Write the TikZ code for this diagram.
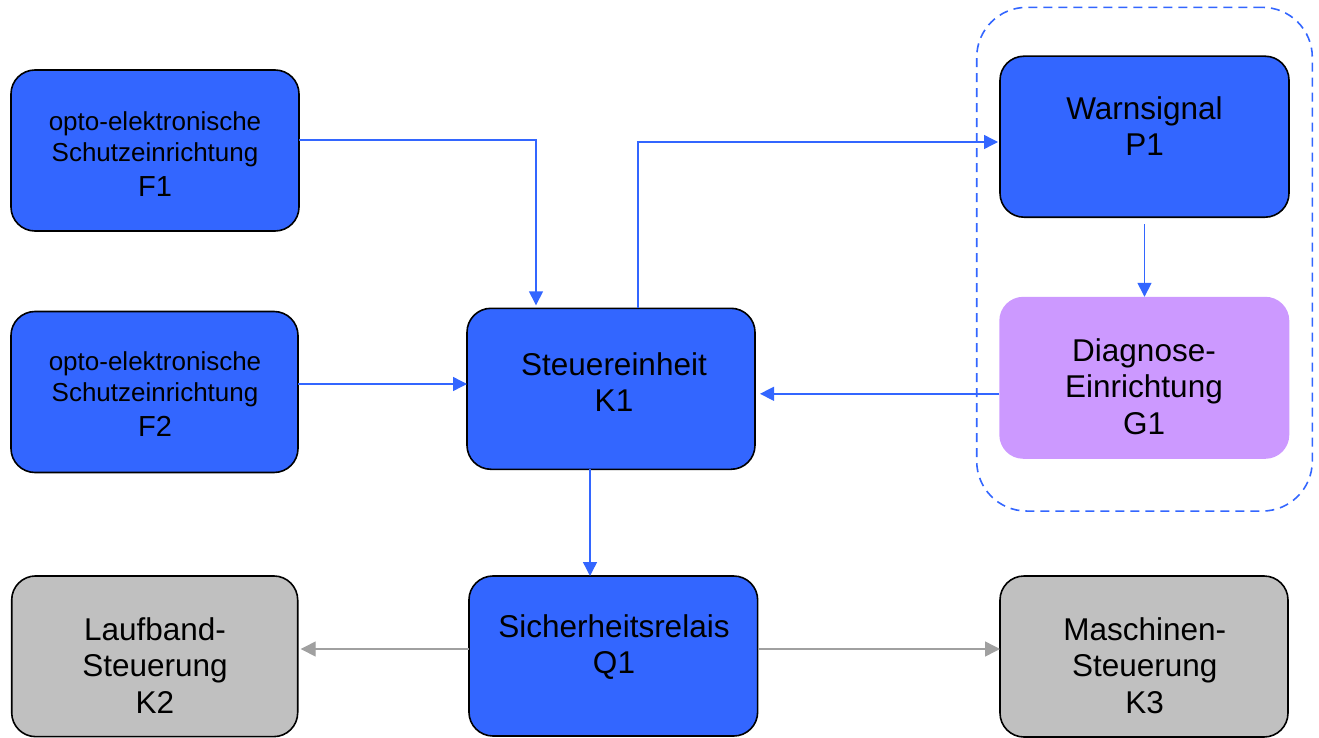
\documentclass[tikz,border=0pt]{standalone}
\usepackage{fontspec}
\setmainfont{Liberation Sans}
\usetikzlibrary{arrows.meta,calc}
\definecolor{cblue}{HTML}{3366FF}
\definecolor{cpurple}{HTML}{CC99FF}
\definecolor{cgrayfill}{HTML}{C0C0C0}
\definecolor{cgrayline}{HTML}{A0A0A0}
\tikzset{
  boxbase/.style={rectangle, rounded corners=24pt, inner sep=0pt, outer sep=0pt,
    minimum width=288pt, minimum height=161pt},
  bluebox/.style={boxbase, draw=black, line width=1.6pt, fill=cblue},
  graybox/.style={boxbase, draw=black, line width=1.6pt, fill=cgrayfill},
  purplebox/.style={boxbase, fill=cpurple, minimum width=290pt, minimum height=162pt},
  grpbox/.style={rectangle, rounded corners=50pt, draw=cblue, line width=1.6pt,
    dash pattern=on 9pt off 6pt, inner sep=0pt, outer sep=0pt,
    minimum width=335.6pt, minimum height=503.7pt},
  bigtxt/.style={align=center, inner sep=0pt, text=black,
    font=\fontsize{31.5}{36.5}\selectfont},
  smalltxt/.style={align=center, inner sep=0pt, text=black,
    font=\fontsize{26}{31}\selectfont},
  arr/.style={draw=cblue, line width=1.4pt, -{Triangle[length=14pt,width=14pt]}},
  grayarr/.style={draw=cgrayline, line width=1.4pt, -{Triangle[length=15pt,width=15pt]}}
}
\begin{document}
\begin{tikzpicture}[x=1pt,y=-1pt]
\useasboundingbox (0,0) rectangle (1319,738);

% group
\node[grpbox] (grp) at (1144.5,259.2) {};

% boxes
\node[bluebox] (F1) at (155,150.5) {};
\node[bluebox, minimum width=287pt] (F2) at (154.5,392) {};
\node[bluebox] (K1) at (611,388.8) {};
\node[bluebox, minimum width=289pt] (P1) at (1144.5,136.7) {};
\node[purplebox] (G1) at (1144.3,377.8) {};
\node[bluebox, minimum width=288.7pt, minimum height=160pt] (Q1) at (613.3,656) {};
\node[graybox, minimum width=286pt, minimum height=160.7pt] (K2) at (154.7,656.3) {};
\node[graybox] (K3) at (1144,656.5) {};

% texts
\node[smalltxt] (tF1) at (155,153.7) {opto-elektronische\\Schutzeinrichtung\\[4pt]{\fontsize{29}{31}\selectfont F1}};
\node[smalltxt] (tF2) at (155,394) {opto-elektronische\\Schutzeinrichtung\\[4pt]{\fontsize{29}{31}\selectfont F2}};
\node[bigtxt] (tK1) at (614,382) {Steuereinheit\\K1};
\node[bigtxt] (tP1) at (1144.5,126.3) {Warnsignal\\P1};
\node[bigtxt] (tG1) at (1144,386.7) {Diagnose-\\Einrichtung\\G1};
\node[bigtxt] (tQ1) at (614,647) {Sicherheitsrelais\\Q1};
\node[bigtxt] (tK2) at (155,665.5) {Laufband-\\Steuerung\\K2};
\node[bigtxt] (tK3) at (1144.7,665.3) {Maschinen-\\Steuerung\\K3};

% connectors
\draw[arr, shorten >=3pt] ([yshift=10.5pt]F1.east) -| ([xshift=-75pt]K1.north);
\draw[arr] ([yshift=8pt]F2.east) -- ([yshift=8pt]F2.east -| K1.west);
\draw[arr, shorten >=2pt] ([xshift=27pt]K1.north) |- ([yshift=-5.3pt]P1.west);
\draw[arr, shorten <=7pt] (P1.south) -- (P1.south |- G1.north);
\draw[arr, shorten >=5pt] ([yshift=-16pt]G1.west) -- ([yshift=-16pt]G1.west -| K1.east);
\draw[arr] ([xshift=-21pt]K1.south) -- ([xshift=-21pt]K1.south |- Q1.north);
\draw[grayarr, shorten >=3pt] ([yshift=7pt]Q1.west) -- ([yshift=7pt]Q1.west -| K2.east);
\draw[grayarr] ([yshift=7pt]Q1.east) -- ([yshift=7pt]Q1.east -| K3.west);
\end{tikzpicture}
\end{document}
